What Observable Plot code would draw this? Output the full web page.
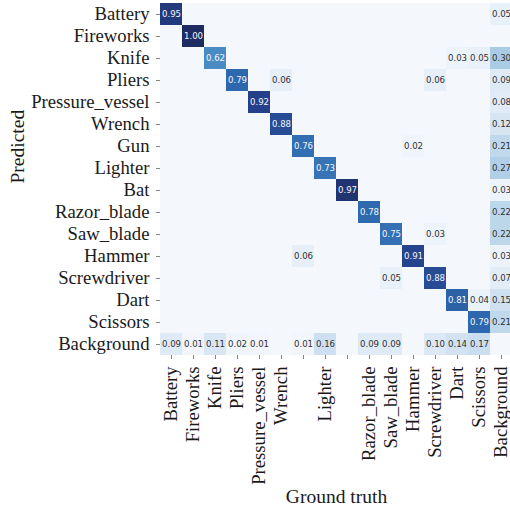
<!DOCTYPE html>
<html>
<head>
<meta charset="utf-8">
<script src="https://cdn.jsdelivr.net/npm/d3@7"></script>
<script src="https://cdn.jsdelivr.net/npm/@observablehq/plot@0.6"></script>
<style>
  html, body { margin: 0; padding: 0; background: #fff; overflow: hidden; }
</style>
</head>
<body>
<div id="chart"></div>
<script>
// Class names (rows = Predicted, columns = Ground truth)
const classes = ["Battery","Fireworks","Knife","Pliers","Pressure_vessel","Wrench","Gun","Lighter","Bat","Razor_blade","Saw_blade","Hammer","Screwdriver","Dart","Scissors","Background"];
// x tick labels as printed (Gun and Bat labels are absent in the reference)
const xTickLabels = ["Battery","Fireworks","Knife","Pliers","Pressure_vessel","Wrench","","Lighter","","Razor_blade","Saw_blade","Hammer","Screwdriver","Dart","Scissors","Background"];
const yTickLabels = classes;

// Non-zero cells
const cellPredicted = [
  "Battery","Battery",
  "Fireworks",
  "Knife","Knife","Knife","Knife",
  "Pliers","Pliers","Pliers","Pliers",
  "Pressure_vessel","Pressure_vessel",
  "Wrench","Wrench",
  "Gun","Gun","Gun",
  "Lighter","Lighter",
  "Bat","Bat",
  "Razor_blade","Razor_blade",
  "Saw_blade","Saw_blade","Saw_blade",
  "Hammer","Hammer","Hammer",
  "Screwdriver","Screwdriver","Screwdriver",
  "Dart","Dart","Dart",
  "Scissors","Scissors",
  "Background","Background","Background","Background","Background","Background","Background","Background","Background","Background","Background","Background"
];
const cellTruth = [
  "Battery","Background",
  "Fireworks",
  "Knife","Dart","Scissors","Background",
  "Pliers","Wrench","Screwdriver","Background",
  "Pressure_vessel","Background",
  "Wrench","Background",
  "Gun","Hammer","Background",
  "Lighter","Background",
  "Bat","Background",
  "Razor_blade","Background",
  "Saw_blade","Screwdriver","Background",
  "Gun","Hammer","Background",
  "Saw_blade","Screwdriver","Background",
  "Dart","Scissors","Background",
  "Scissors","Background",
  "Battery","Fireworks","Knife","Pliers","Pressure_vessel","Gun","Lighter","Razor_blade","Saw_blade","Screwdriver","Dart","Scissors"
];
const cellValue = [
  0.95,0.05,
  1.00,
  0.62,0.03,0.05,0.30,
  0.79,0.06,0.06,0.09,
  0.92,0.08,
  0.88,0.12,
  0.76,0.02,0.21,
  0.73,0.27,
  0.97,0.03,
  0.78,0.22,
  0.75,0.03,0.22,
  0.06,0.91,0.03,
  0.05,0.88,0.07,
  0.81,0.04,0.15,
  0.79,0.21,
  0.09,0.01,0.11,0.02,0.01,0.01,0.16,0.09,0.09,0.10,0.14,0.17
];

const nonzero = cellValue.map((v, i) => ({pred: cellPredicted[i], truth: cellTruth[i], value: v}));
const lookup = new Map(nonzero.map(d => [d.pred + "|" + d.truth, d.value]));
const grid = [];
for (const p of classes) for (const t of classes) grid.push({pred: p, truth: t, value: lookup.get(p + "|" + t) ?? 0});

const serif = "'Liberation Serif', 'Times New Roman', serif";

const chart = Plot.plot({
  width: 510,
  height: 516,
  marginLeft: 160,
  marginRight: -2,
  marginTop: 3,
  marginBottom: 161,
  style: {background: "#fff", fontFamily: serif, overflow: "hidden"},
  x: {domain: classes, padding: 0, axis: null},
  y: {domain: classes, padding: 0, axis: null},
  color: {
    type: "linear",
    domain: [0, 0.1, 0.3, 0.62, 0.79, 0.92, 1],
    range: ["#f4f8fd", "#dce8f5", "#a9cbe3", "#4a8bc4", "#2d68ae", "#25408a", "#1e2c63"],
    interpolate: "rgb"
  },
  marks: [
    Plot.cell(grid, {x: "truth", y: "pred", fill: "value", inset: 0}),
    Plot.text(nonzero, {
      x: "truth", y: "pred",
      text: d => d.value.toFixed(2),
      fill: d => d.value > 0.45 ? "#f4f6fb" : "#303030",
      fontFamily: "'DejaVu Sans', sans-serif",
      fontSize: 8.6
    }),
    Plot.axisX({
      anchor: "bottom", tickSize: 4, tickPadding: 7, tickRotate: -90,
      tickFormat: (d, i) => xTickLabels[classes.indexOf(d)],
      fontSize: 18.7, fontFamily: serif, fill: "#1a1a1a", stroke: "#666", strokeWidth: 0.8,
      label: null
    }),
    Plot.axisY({
      anchor: "left", tickSize: 4, tickPadding: 7,
      tickFormat: d => yTickLabels[classes.indexOf(d)],
      fontSize: 18.7, fontFamily: serif, fill: "#1a1a1a", stroke: "#666", strokeWidth: 0.8,
      label: null
    }),
    Plot.text(["Ground truth"], {frameAnchor: "bottom", dy: 147, fontSize: 19.5, fontFamily: serif, fill: "#1a1a1a"}),
    Plot.text(["Predicted"], {frameAnchor: "left", dx: -143, dy: 4, rotate: -90, fontSize: 19.5, fontFamily: serif, fill: "#1a1a1a"})
  ]
});
document.getElementById("chart").appendChild(chart);
</script>
</body>
</html>
